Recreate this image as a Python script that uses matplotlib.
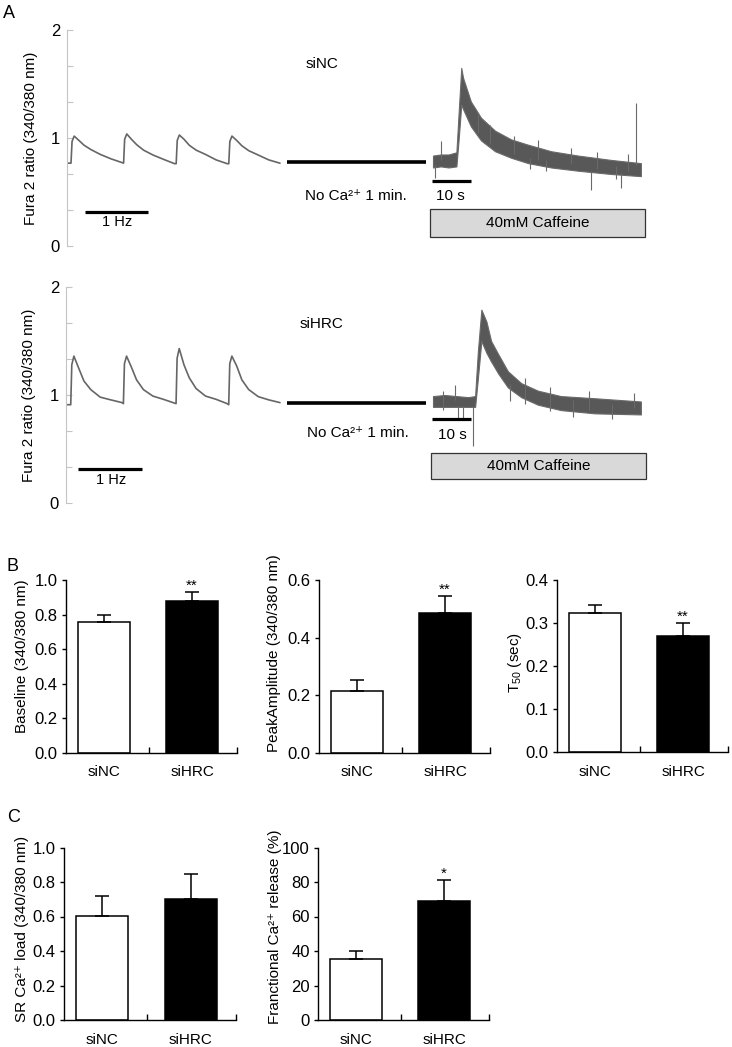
import matplotlib
matplotlib.use('Agg')
import matplotlib.pyplot as plt
from matplotlib.patches import Rectangle
import numpy as np

plt.rcParams['font.family'] = ['Liberation Sans', 'DejaVu Sans']
plt.rcParams['mathtext.fontset'] = 'custom'
plt.rcParams['mathtext.rm'] = 'Liberation Sans'
plt.rcParams['mathtext.it'] = 'Liberation Sans:italic'
plt.rcParams['mathtext.bf'] = 'Liberation Sans:bold'

# ------------------------------------------------------------------ data
# Panel A: 1 Hz paced transients (time in s, Fura-2 ratio)
beat_onsets = [0, 1, 2, 3]
beat_offsets = [0.0, 0.02, 0.06, 0.15, 0.25, 0.38, 0.56, 0.76, 0.97]
siNC_pre = 0.77
siNC_beats = [
    [0.77, 0.97, 1.02, 0.98, 0.935, 0.895, 0.85, 0.81, 0.775],
    [0.77, 0.99, 1.04, 0.99, 0.94, 0.89, 0.845, 0.805, 0.765],
    [0.765, 0.98, 1.03, 0.99, 0.935, 0.89, 0.85, 0.80, 0.765],
    [0.765, 0.97, 1.02, 0.98, 0.93, 0.885, 0.845, 0.80, 0.77],
]
siHRC_pre = 0.91
siHRC_beats = [
    [0.91, 1.28, 1.36, 1.25, 1.13, 1.05, 0.98, 0.955, 0.93],
    [0.92, 1.29, 1.36, 1.26, 1.14, 1.05, 0.99, 0.96, 0.925],
    [0.92, 1.34, 1.43, 1.28, 1.16, 1.06, 0.99, 0.96, 0.92],
    [0.91, 1.29, 1.36, 1.27, 1.14, 1.05, 0.985, 0.955, 0.93],
]

# Panel A: caffeine-induced release (time in s, dense noise band low/high)
cafNC_t = [0.0, 2.0, 4.0, 6.0, 6.6, 7.25, 7.7, 9.7, 12.3, 15.9, 20.0, 24.4, 30.3, 37.2, 45.6, 53.3]
cafNC_lo = [0.73, 0.74, 0.73, 0.74, 1.00, 1.31, 1.27, 1.11, 0.98, 0.88, 0.82, 0.77, 0.73, 0.70, 0.67, 0.65]
cafNC_hi = [0.84, 0.85, 0.85, 0.87, 1.25, 1.65, 1.56, 1.34, 1.19, 1.07, 0.99, 0.94, 0.88, 0.84, 0.80, 0.77]
cafNC_spike_t = [0.6, 2.0, 11.5, 14.5, 20.8, 24.8, 27.0, 29.0, 35.5, 40.5, 42.0, 47.0, 48.2, 50.0, 52.1]
cafNC_spike_lo = [0.63, 0.80, 1.05, 0.95, 0.85, 0.72, 0.80, 0.70, 0.76, 0.52, 0.72, 0.62, 0.54, 0.70, 0.75]
cafNC_spike_hi = [0.75, 0.97, 1.22, 1.12, 1.02, 0.82, 0.98, 0.80, 0.91, 0.70, 0.87, 0.74, 0.68, 0.85, 1.33]

cafHRC_t = [0.0, 3.0, 6.0, 9.0, 10.8, 11.5, 12.4, 13.7, 14.9, 16.7, 19.2, 22.6, 26.9, 32.8, 41.5, 53.3]
cafHRC_lo = [0.89, 0.89, 0.89, 0.89, 0.89, 1.15, 1.50, 1.39, 1.31, 1.20, 1.07, 0.98, 0.91, 0.86, 0.83, 0.82]
cafHRC_hi = [0.99, 1.00, 0.99, 0.98, 0.99, 1.40, 1.79, 1.68, 1.50, 1.38, 1.22, 1.11, 1.04, 0.99, 0.97, 0.94]
cafHRC_spike_t = [2.5, 5.6, 6.4, 7.8, 10.3, 19.7, 23.5, 30.0, 36.0, 40.0, 46.0, 51.5]
cafHRC_spike_lo = [0.86, 0.95, 0.78, 0.78, 0.53, 0.94, 0.92, 0.85, 0.80, 0.86, 0.78, 0.88]
cafHRC_spike_hi = [1.04, 1.09, 0.90, 0.90, 0.90, 1.10, 1.16, 1.07, 0.95, 1.04, 0.92, 1.02]

# Panels B and C: bar charts
groups = ['siNC', 'siHRC']
baseline_mean = [0.76, 0.88]
baseline_err = [0.04, 0.05]
peak_mean = [0.214, 0.486]
peak_err = [0.040, 0.059]
t50_mean = [0.324, 0.270]
t50_err = [0.018, 0.030]
srload_mean = [0.605, 0.700]
srload_err = [0.115, 0.147]
frac_mean = [35.2, 68.7]
frac_err = [4.8, 12.7]
baseline_sig = ['', '**']
peak_sig = ['', '**']
t50_sig = ['', '**']
srload_sig = ['', '']
frac_sig = ['', '*']

# ------------------------------------------------------------------ layout helpers
W, H = 732, 1047
fig = plt.figure(figsize=(W / 100, H / 100), dpi=100)


def px_axes(left, top, right, bottom):
    return fig.add_axes([left / W, 1 - bottom / H, (right - left) / W, (bottom - top) / H])


TRACE_GRAY = '#666666'
BAND_GRAY = '#585858'
AXIS_GRAY = '#c4c4c4'
CA = 'Ca²⁺'


def pacing_trace(pre, beats):
    t = [-0.06]
    v = [pre]
    for onset, vals in zip(beat_onsets, beats):
        for off, val in zip(beat_offsets, vals):
            t.append(onset + off)
            v.append(val)
    return t, v


def hide_all(ax):
    for s in ax.spines.values():
        s.set_visible(False)
    ax.set_xticks([])
    ax.set_yticks([])
    ax.patch.set_alpha(0)


def panel_a_row(top, bottom, left, pre, beats, caf_t, caf_lo, caf_hi, sp_t, sp_lo, sp_hi,
                label, xlim_left, hz_bar, hz_text, noca_bar_y, noca_text, label_pos,
                tenbar_y, ten_text, box):
    # pacing axes
    ax = px_axes(left, top, 284, bottom)
    t, v = pacing_trace(pre, beats)
    ax.plot(t, v, color=TRACE_GRAY, lw=1.2)
    ax.set_xlim(xlim_left, 4.05)
    ax.set_ylim(0, 2)
    for s in ['top', 'right', 'bottom']:
        ax.spines[s].set_visible(False)
    ax.spines['left'].set_color(AXIS_GRAY)
    ax.spines['left'].set_linewidth(0.8)
    ax.set_xticks([])
    ax.set_yticks([0, 1, 2])
    ax.set_yticks([1 / 3, 2 / 3, 4 / 3, 5 / 3], minor=True)
    ax.tick_params(axis='y', which='both', direction='in', length=4, width=0.8,
                   color=AXIS_GRAY, labelsize=12, pad=5)
    ax.set_ylabel('Fura 2 ratio (340/380 nm)', fontsize=11, va='center')
    ax.yaxis.set_label_coords(-0.168, 0.5)
    ax.patch.set_alpha(0)
    # 1 Hz scale bar
    ax.plot(hz_bar[0], [hz_bar[1]] * 2, color='black', lw=2.3, solid_capstyle='butt', clip_on=False)
    ax.text(hz_text[0], hz_text[1], '1 Hz', fontsize=10.5, ha='center', va='baseline')

    # no-Ca segment
    axn = px_axes(287, top, 426, bottom)
    hide_all(axn)
    axn.set_xlim(0, 1)
    axn.set_ylim(0, 2)
    axn.plot([0, 1], [noca_bar_y] * 2, color='black', lw=2.6, solid_capstyle='butt', clip_on=False)
    axn.text(noca_text[0], noca_text[1], 'No ' + CA + ' 1 min.', fontsize=11, ha='left', va='baseline')
    axn.text(label_pos[0], label_pos[1], label, fontsize=11, ha='center', va='baseline')

    # caffeine segment
    axc = px_axes(420, top, 660, bottom)
    hide_all(axc)
    axc.set_xlim(-3.33, 58.2)
    axc.set_ylim(0, 2)
    axc.fill_between(caf_t, caf_lo, caf_hi, color=BAND_GRAY, lw=0.8, edgecolor='#6a6a6a')
    axc.vlines(sp_t, sp_lo, sp_hi, color='#6a6a6a', lw=0.8)
    axc.plot([-0.26, 9.74], [tenbar_y] * 2, color='black', lw=2.3, solid_capstyle='butt')
    axc.text(ten_text[0], ten_text[1], '10 s', fontsize=11, ha='center', va='baseline')
    x0, x1, y0, y1 = box
    axc.add_patch(Rectangle((x0, y0), x1 - x0, y1 - y0, facecolor='#d9d9d9',
                            edgecolor='#333333', lw=0.9))
    axc.text((x0 + x1) / 2, (y0 + y1) / 2, '40mM Caffeine', fontsize=11, ha='center', va='center')


panel_a_row(30, 246.5, 67, siNC_pre, siNC_beats, cafNC_t, cafNC_lo, cafNC_hi,
            cafNC_spike_t, cafNC_spike_lo, cafNC_spike_hi, 'siNC', -0.076,
            ([0.266, 1.464], 0.321), (0.884, 0.19), 0.78, (0.13, 0.43), (0.25, 1.646),
            0.605, (4.57, 0.43), (-0.77, 54.36, 0.088, 0.346))

panel_a_row(287, 503, 66, siHRC_pre, siHRC_beats, cafHRC_t, cafHRC_lo, cafHRC_hi,
            cafHRC_spike_t, cafHRC_spike_lo, cafHRC_spike_hi, 'siHRC', -0.09,
            ([0.139, 1.356], 0.312), (0.766, 0.176), 0.925, (0.145, 0.614), (0.246, 1.617),
            0.778, (4.9, 0.59), (-0.51, 54.6, 0.222, 0.463))


# ------------------------------------------------------------------ bar charts
def bar_chart(rect, means, errs, sig, ylim, yticks, fmt, ylabel, lab_x, lab_y):
    ax = px_axes(*rect)
    x = np.arange(len(groups))
    ax.bar(x, means, width=0.59, color=['white', 'black'], edgecolor='black', linewidth=1.1, zorder=2)
    ax.errorbar(x, means, yerr=[[0] * len(errs), errs], fmt='none', ecolor='black',
                elinewidth=1.1, capsize=4.8, capthick=1.1, zorder=3)
    for xi, m, e, s in zip(x, means, errs, sig):
        if s:
            ax.annotate(s, (xi, m + e), xytext=(0, 1.5), textcoords='offset points',
                        ha='center', va='baseline', fontsize=11)
    ax.set_xlim(-0.43, 1.51)
    ax.set_ylim(*ylim)
    ax.set_yticks(yticks)
    ax.set_yticklabels([fmt.format(v) for v in yticks])
    ax.set_xticks(x)
    ax.set_xticklabels(groups)
    ax.set_xticks([0.51, 1.51], minor=True)
    ax.tick_params(axis='x', which='major', length=0, labelsize=11, pad=9)
    ax.tick_params(axis='x', which='minor', direction='in', length=4, width=1.0)
    ax.tick_params(axis='y', direction='out', length=3, width=1.0, labelsize=12, pad=3)
    for s in ['top', 'right']:
        ax.spines[s].set_visible(False)
    for s in ['left', 'bottom']:
        ax.spines[s].set_linewidth(1.0)
    ax.set_ylabel(ylabel, fontsize=11, va='center')
    ax.yaxis.set_label_coords(lab_x, lab_y)
    return ax


bar_chart((66, 580, 237, 753), baseline_mean, baseline_err, baseline_sig, (0, 1.0),
          [0, 0.2, 0.4, 0.6, 0.8, 1.0], '{:.1f}', 'Baseline (340/380 nm)', -0.26, 0.56)
bar_chart((319, 580, 490, 753), peak_mean, peak_err, peak_sig, (0, 0.6),
          [0, 0.2, 0.4, 0.6], '{:.1f}', 'PeakAmplitude (340/380 nm)', -0.265, 0.58)
bar_chart((557, 580, 728, 752), t50_mean, t50_err, t50_sig, (0, 0.4),
          [0, 0.1, 0.2, 0.3, 0.4], '{:.1f}', 'T$_{50}$ (sec)', -0.246, 0.52)
bar_chart((64, 847.5, 236, 1020), srload_mean, srload_err, srload_sig, (0, 1.0),
          [0, 0.2, 0.4, 0.6, 0.8, 1.0], '{:.1f}', 'SR ' + CA + ' load (340/380 nm)', -0.245, 0.53)
bar_chart((318, 847.5, 489, 1020), frac_mean, frac_err, frac_sig, (0, 100),
          [0, 20, 40, 60, 80, 100], '{:.0f}', 'Franctional ' + CA + ' release (%)', -0.25, 0.54)

# panel letters
fig.text(3 / W, 1 - 18 / H, 'A', fontsize=13, va='baseline')
fig.text(6 / W, 1 - 571 / H, 'B', fontsize=13, va='baseline')
fig.text(7 / W, 1 - 822 / H, 'C', fontsize=13, va='baseline')

fig.savefig('out.png', dpi=100)
